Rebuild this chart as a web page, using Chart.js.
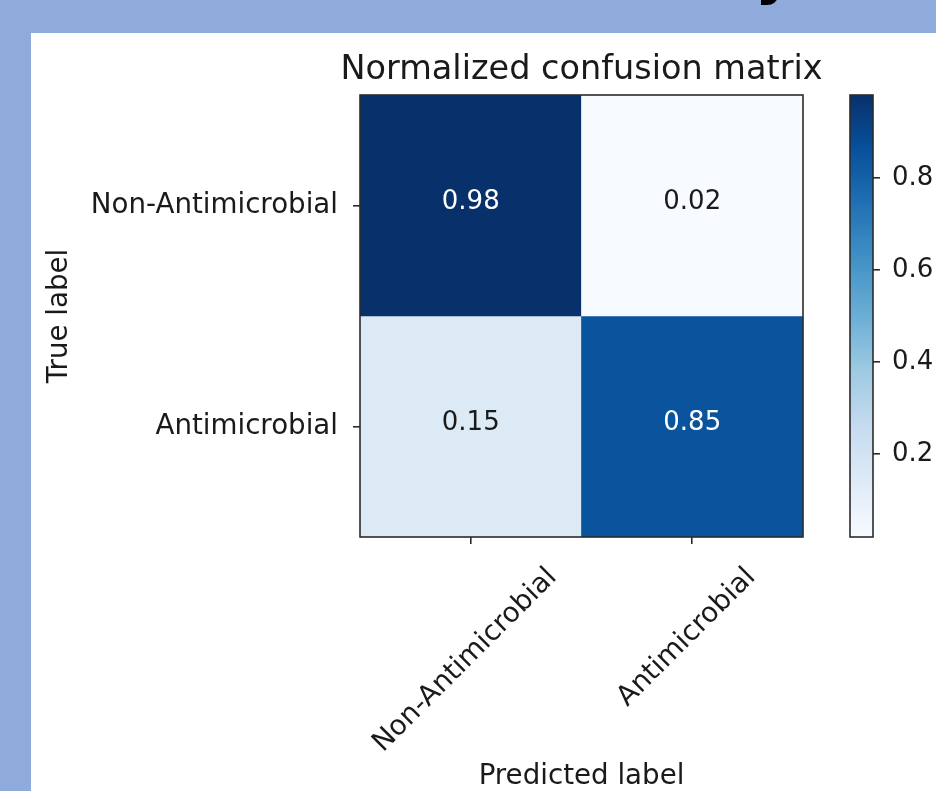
<!DOCTYPE html>
<html><head><meta charset="utf-8">
<script src="https://cdn.jsdelivr.net/npm/chart.js@4.4.0/dist/chart.umd.min.js"></script>
<style>
html,body{margin:0;padding:0;width:936px;height:791px;overflow:hidden;background:#8eabdc;}
#panel{position:absolute;left:31px;top:33px;width:905px;height:758px;background:#fff;}
#c1{position:absolute;left:31px;top:33px;width:905px;height:758px;}
#c2{position:absolute;left:820px;top:33px;width:116px;height:758px;}
#frag{position:absolute;left:755px;top:-59px;font-family:"DejaVu Sans";font-weight:bold;font-size:60px;line-height:1;color:#000;}
</style></head><body>
<div id="frag">y</div>
<div id="panel"></div>
<canvas id="c1" width="905" height="758"></canvas>
<canvas id="c2" width="116" height="758"></canvas>
<script>
// ---- data ----
const predLabels = ['Non-Antimicrobial', 'Antimicrobial'];
const trueLabels = ['Non-Antimicrobial', 'Antimicrobial'];
const rowNonAntimicrobial = [0.98, 0.02];
const rowAntimicrobial = [0.15, 0.85];
const matrixRows = [rowNonAntimicrobial, rowAntimicrobial];
const colorbarTicks = [0.2, 0.4, 0.6, 0.8];
const chartTitle = 'Normalized confusion matrix';
const xTitle = 'Predicted label';
const yTitle = 'True label';

// ---- style ----
const FONT = 'DejaVu Sans';
const TXT = '#1a1a1a';
const AXC = '#2b2b2b';
const TICK_SIZE = 27.7;
const bluesStops = [
  [247,251,255],[222,235,247],[198,219,239],[158,202,225],[107,174,214],
  [66,146,198],[33,113,181],[8,81,156],[8,48,107]
];
function blues(t){
  t = Math.max(0, Math.min(1, t));
  const p = t * (bluesStops.length - 1);
  const i = Math.min(bluesStops.length - 2, Math.floor(p));
  const f = p - i;
  const a = bluesStops[i], b = bluesStops[i+1];
  const c = a.map((v,k)=>Math.round(v + (b[k]-v)*f));
  return `rgb(${c[0]},${c[1]},${c[2]})`;
}
const allVals = matrixRows.flat();
const vmin = Math.min(...allVals), vmax = Math.max(...allVals);
const thresh = vmax / 2;
const norm = v => (v - vmin) / (vmax - vmin);

const framePlugin = {
  id: 'frame',
  afterDraw(chart){
    const {ctx, chartArea:a} = chart;
    ctx.save();
    ctx.strokeStyle = AXC; ctx.lineWidth = 1.6;
    ctx.strokeRect(a.left, a.top, a.right - a.left, a.bottom - a.top);
    ctx.restore();
  }
};

const heatText = {
  id: 'heatText',
  afterDatasetsDraw(chart){
    const {ctx, chartArea:a} = chart;
    const xs = chart.scales.x, ys = chart.scales.y;
    ctx.save();
    ctx.font = `26px "${FONT}"`;
    ctx.textAlign = 'center';
    ctx.textBaseline = 'alphabetic';
    matrixRows.forEach((row, r) => {
      row.forEach((v, c) => {
        ctx.fillStyle = v > thresh ? '#ffffff' : TXT;
        ctx.fillText(v.toFixed(2), xs.getPixelForValue(c), ys.getPixelForValue(r) + 3);
      });
    });
    // title
    ctx.fillStyle = TXT;
    ctx.font = `33.5px "${FONT}"`;
    ctx.fillText(chartTitle, (a.left + a.right) / 2, a.top - 16);
    // rotated x tick labels (matplotlib style: centered bbox, 45deg)
    ctx.font = `${TICK_SIZE}px "${FONT}"`;
    ctx.textBaseline = 'middle';
    predLabels.forEach((lab, i) => {
      const w = ctx.measureText(lab).width;
      const tx = xs.getPixelForTick(i) - 5.5;
      const ty = a.bottom + 36 + w * 0.3536;
      ctx.save();
      ctx.translate(tx, ty);
      ctx.rotate(-Math.PI / 4);
      ctx.fillText(lab, 0, 0);
      ctx.restore();
    });
    ctx.restore();
  }
};

new Chart(document.getElementById('c1'), {
  type: 'bar',
  data: {
    labels: predLabels,
    datasets: matrixRows.map((row, r) => ({
      data: row.map(() => [r - 0.5, r + 0.5]),
      backgroundColor: row.map(v => blues(norm(v))),
      borderWidth: 0,
      grouped: false,
      barPercentage: 1,
      categoryPercentage: 1
    }))
  },
  options: {
    responsive: false, animation: false, events: [],
    layout: {padding: {left: 0, right: 133, top: 62, bottom: 0}},
    plugins: {legend: {display: false}, tooltip: {enabled: false}, title: {display: false}},
    scales: {
      x: {
        type: 'category', offset: true,
        grid: {offset: false, drawOnChartArea: false, drawTicks: true, tickLength: 7, color: AXC, lineWidth: 1.6},
        border: {display: false},
        ticks: {color: 'rgba(0,0,0,0)', font: {family: FONT, size: TICK_SIZE}, minRotation: 45, maxRotation: 45, autoSkip: false},
        title: {display: true, text: xTitle, color: TXT, font: {family: FONT, size: TICK_SIZE, lineHeight: 1}, padding: {top: 0, bottom: 0}},
        afterFit: s => { s.height = 254; }
      },
      y: {
        type: 'linear', min: -0.5, max: 1.5, reverse: true,
        afterBuildTicks: s => { s.ticks = trueLabels.map((_, i) => ({value: i})); },
        ticks: {callback: v => trueLabels[v], color: TXT, font: {family: FONT, size: TICK_SIZE}, padding: 15, autoSkip: false},
        grid: {drawOnChartArea: false, drawTicks: true, tickLength: 7, color: AXC, lineWidth: 1.6},
        border: {display: false},
        title: {display: true, text: yTitle, color: TXT, font: {family: FONT, size: TICK_SIZE, lineHeight: 1}, padding: {top: 15, bottom: 0}},
        afterFit: s => { s.width = 329; }
      }
    }
  },
  plugins: [framePlugin, heatText]
});

new Chart(document.getElementById('c2'), {
  type: 'bar',
  data: {
    labels: ['colorbar'],
    datasets: [{
      data: [[vmin, vmax]],
      backgroundColor: ctx => {
        const a = ctx.chart.chartArea;
        if (!a) return blues(0.5);
        const g = ctx.chart.ctx.createLinearGradient(0, a.bottom, 0, a.top);
        bluesStops.forEach((s, i) => g.addColorStop(i / (bluesStops.length - 1), `rgb(${s[0]},${s[1]},${s[2]})`));
        return g;
      },
      borderWidth: 0,
      barPercentage: 1,
      categoryPercentage: 1
    }]
  },
  options: {
    responsive: false, animation: false, events: [],
    layout: {padding: {left: 30, right: 0, top: 62, bottom: 254}},
    plugins: {legend: {display: false}, tooltip: {enabled: false}},
    scales: {
      x: {display: false},
      y: {
        position: 'right', min: vmin, max: vmax,
        afterBuildTicks: s => { s.ticks = colorbarTicks.map(v => ({value: v})); },
        ticks: {callback: v => v.toFixed(1), color: TXT, font: {family: FONT, size: 26}, padding: 12},
        grid: {drawOnChartArea: false, drawTicks: true, tickLength: 7, color: AXC, lineWidth: 1.6},
        border: {display: false},
        afterFit: s => { s.width = 63; }
      }
    }
  },
  plugins: [framePlugin]
});
</script>
</body></html>
